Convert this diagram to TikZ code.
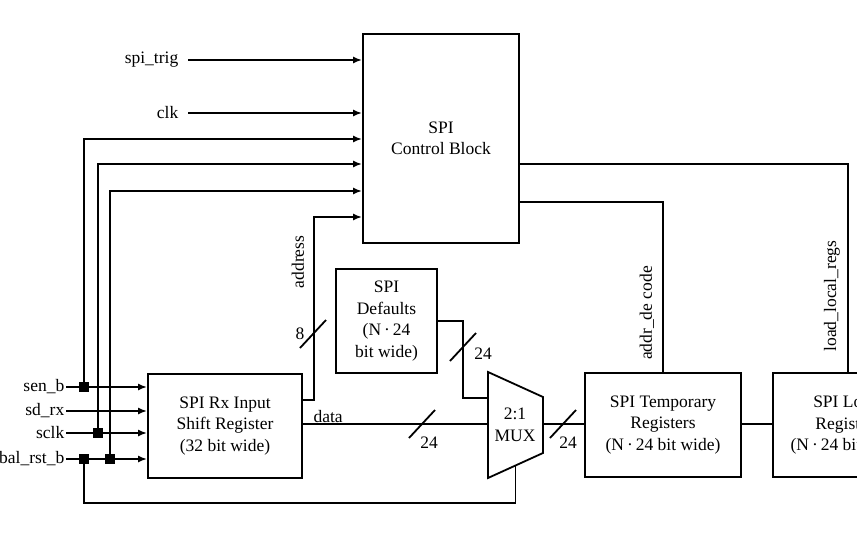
\documentclass[tikz,border=0pt]{standalone}
\usepackage{fontspec}
\setmainfont{Liberation Serif}
\usetikzlibrary{arrows.meta,calc,positioning}
\tikzset{
  blk/.style={draw,line width=1.8pt,align=center,inner sep=2pt},
  sig/.style={line width=1.8pt},
  sigin/.style={sig,-{Latex[length=9pt,width=7pt]}},
  lbl/.style={inner sep=1.5pt},
  jdot/.style={fill,inner sep=0pt,minimum size=10pt},
  busno/.style={inner sep=1pt}
}
\newcommand{\busmark}[1]{\draw[sig] ($(#1)+(-13,14)$) -- ($(#1)+(13,-14)$);}

\begin{document}
\begin{tikzpicture}[x=1pt,y=-1pt,font=\fontsize{17.5}{21.5}\selectfont]
\useasboundingbox (0,0) rectangle (857,536);
% signal levels and columns
\coordinate (r1) at (0,139);
\coordinate (r2) at (0,164);
\coordinate (r3) at (0,191);
\coordinate (r4) at (0,217);
\coordinate (r5) at (0,202);
\coordinate (ra) at (0,400);
\coordinate (rd) at (0,424);
\coordinate (rf) at (0,321);
\coordinate (colA) at (84,0);
\coordinate (colB) at (98,0);
\coordinate (colC) at (110,0);
% blocks
\node[blk,minimum width=156pt,minimum height=209pt] (ctrl) at (441,138.5) {SPI\\Control Block};
\node[blk,minimum width=154pt,minimum height=104pt] (rx) at (225,426) {SPI Rx Input\\Shift Register\\(32 bit wide)};
\node[blk,minimum width=101pt,minimum height=104pt] (dflt) at (386.5,321) {SPI\\Defaults\\(N\,·\,24\\bit wide)};
\node[blk,minimum width=156pt,minimum height=104pt] (temp) at (663,425) {SPI Temporary\\Registers\\(N\,·\,24 bit wide)};
\node[blk,minimum width=150pt,minimum height=104pt] (local) at (848,425) {SPI Local\\Registers\\(N\,·\,24 bit wide)};
% mux
\coordinate (m1) at (488,372);
\coordinate (m2) at (543,397);
\coordinate (m3) at (543,453);
\coordinate (m4) at (488,478);
\draw[sig] (m1) -- (m2) -- (m3) -- (m4) -- cycle;
\node[align=center,inner sep=0pt] (mux) at (515,425) {2:1\\MUX};
% inputs to control block
\node[lbl,anchor=east] (trig) at (180,60) {spi\_trig};
\node[lbl,anchor=east] (clk) at (180,113) {clk};
\draw[sigin] ([xshift=8pt]trig.east) -- (trig.east -| ctrl.west);
\draw[sigin] ([xshift=8pt]clk.east) -- (clk.east -| ctrl.west);
% inputs to rx register
\node[lbl,anchor=east] (sen) at (66,387) {sen\_b};
\node[lbl,anchor=east] (sdrx) at (66,411) {sd\_rx};
\node[lbl,anchor=east] (sclk) at (66,433) {sclk};
\node[lbl,anchor=east] (rst) at (66,459) {global\_rst\_b};
\draw[sigin] (sen.east) -- (sen.east -| rx.west);
\draw[sigin] (sdrx.east) -- (sdrx.east -| rx.west);
\draw[sigin] (sclk.east) -- (sclk.east -| rx.west);
\draw[sigin] (rst.east) -- (rst.east -| rx.west);
\node[jdot] (j1) at (sen.east -| colA) {};
\node[jdot] (j2) at (sclk.east -| colB) {};
\node[jdot] (j3) at (rst.east -| colC) {};
\node[jdot] (j4) at (rst.east -| colA) {};
\draw[sigin] (j1.center) |- (ctrl.west |- r1);
\draw[sigin] (j2.center) |- (ctrl.west |- r2);
\draw[sigin] (j3.center) |- (ctrl.west |- r3);
\draw[sig] (j4.center) -- ++(0,44) -| ($(m3)!0.5!(m4)$);
% address
\draw[sigin] (rx.east |- ra) -- ++(11,0) |- (ctrl.west |- r4);
\node[lbl,rotate=90] (addrl) at (298,262) {address};
\coordinate (b1) at (313,334);
\busmark{b1}
\node[busno] (b1l) at (300,334) {8};
% data path
\draw[sig] (rx.east |- rd) -- (m1 |- rd);
\node[lbl,anchor=south west] (datal) at ([xshift=9pt]rx.east |- rd) {data};
\coordinate (b2) at (422,424);
\busmark{b2}
\node[busno] (b2l) at (429,443) {24};
\coordinate (dm) at (463,398);
\draw[sig] (dflt.east |- rf) -| (dm) -- (m1 |- dm);
\coordinate (b3) at (463,347);
\busmark{b3}
\node[busno] (b3l) at (483,354) {24};
\draw[sig] (m2 |- rd) -- (temp.west |- rd);
\coordinate (b4) at (563,424);
\busmark{b4}
\node[busno] (b4l) at (568,443) {24};
\draw[sig] (temp.east |- rd) -- (local.west |- rd);
% control outputs
\draw[sig] (ctrl.east |- r5) -| (temp.north);
\draw[sig] (ctrl.east |- r2) -| (local.north);
\node[lbl,rotate=90] (decl) at (647,313) {addr\_de code};
\node[lbl,rotate=90] (loadl) at (832,296) {load\_local\_regs};
\end{tikzpicture}
\end{document}
